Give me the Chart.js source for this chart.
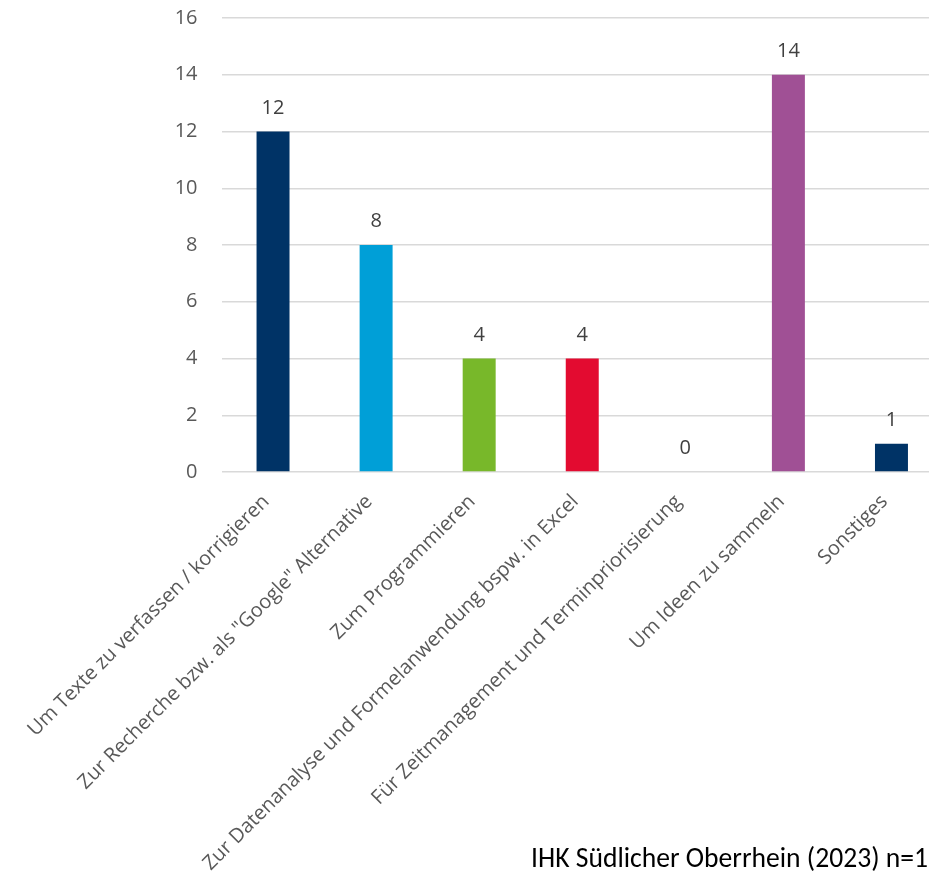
<!DOCTYPE html>
<html lang="de">
<head>
<meta charset="utf-8">
<title>KI-Nutzung nach Einsatzzweck</title>
<script src="https://cdn.jsdelivr.net/npm/chart.js@4/dist/chart.umd.min.js"></script>
<style>
  html, body { margin: 0; padding: 0; background: #ffffff; overflow: hidden; width: 929px; height: 890px; }
  #wrap { position: absolute; left: 0; top: 0; width: 943px; height: 890px; }
  #source {
    position: absolute; left: 531px; top: 841px; white-space: nowrap;
    font-family: Carlito, Calibri, Lato, sans-serif; font-size: 27.6px; color: #000000;
  }
</style>
</head>
<body>
<div id="wrap"><canvas id="chart"></canvas></div>
<div id="source">IHK Südlicher Oberrhein (2023) n=1</div>
<script>
// Einsatzzwecke (x-Achse)
const categories = [
  'Um Texte zu verfassen / korrigieren',
  'Zur Recherche bzw. als "Google" Alternative',
  'Zum Programmieren',
  'Zur Datenanalyse und Formelanwendung bspw. in Excel',
  'Für Zeitmanagement und Terminpriorisierung',
  'Um Ideen zu sammeln',
  'Sonstiges'
];

// Anzahl Nennungen je Einsatzzweck
const counts = [12, 8, 4, 4, 0, 14, 1];

// Skala der y-Achse
const yMin = 0;
const yMax = 16;
const yStep = 2;

// Balkenfarben
const barColors = ['#003366', '#009FD7', '#78B82A', '#E30B30', '#9E9E9E', '#A05095', '#003366'];

// Zahlenwerte über den Balken
const valueLabels = {
  id: 'valueLabels',
  afterDatasetsDraw(chart) {
    const ctx = chart.ctx;
    const meta = chart.getDatasetMeta(0);
    ctx.save();
    ctx.font = '20px "Open Sans"';
    ctx.fillStyle = '#404040';
    ctx.textAlign = 'center';
    ctx.textBaseline = 'alphabetic';
    meta.data.forEach((bar, i) => {
      ctx.fillText(String(counts[i]), bar.x, bar.y - 18);
    });
    ctx.restore();
  }
};

function drawChart() {
  new Chart(document.getElementById('chart'), {
    type: 'bar',
    data: {
      labels: categories,
      datasets: [{
        data: counts,
        backgroundColor: barColors,
        borderWidth: 0,
        categoryPercentage: 1,
        barPercentage: 0.32
      }]
    },
    options: {
      responsive: true,
      maintainAspectRatio: false,
      animation: false,
      layout: { padding: { top: 18, right: 0, bottom: 0, left: 0 } },
      plugins: {
        legend: { display: false },
        tooltip: { enabled: false }
      },
      scales: {
        x: {
          grid: { display: false },
          border: { display: false },
          ticks: {
            autoSkip: false,
            minRotation: 45,
            maxRotation: 45,
            padding: 10,
            labelOffset: -7,
            color: '#595959',
            font: { family: 'Open Sans', size: 20 }
          },
          afterFit(scale) {
            scale.height = 418;
            scale.paddingLeft = 0;
            scale.paddingRight = 0;
          }
        },
        y: {
          min: yMin,
          max: yMax,
          border: { display: false },
          grid: { color: '#d9d9d9', lineWidth: 1.5, drawTicks: false },
          ticks: {
            stepSize: yStep,
            padding: 24,
            color: '#595959',
            font: { family: 'Open Sans', size: 20 }
          },
          afterFit(scale) {
            scale.width = 221.5;
            scale.paddingTop = 0;
            scale.paddingBottom = 0;
          }
        }
      }
    },
    plugins: [valueLabels]
  });
}

Promise.all([
  document.fonts.load('20px "Open Sans"'),
  document.fonts.load('27.6px Carlito')
]).then(drawChart, drawChart);
</script>
</body>
</html>
